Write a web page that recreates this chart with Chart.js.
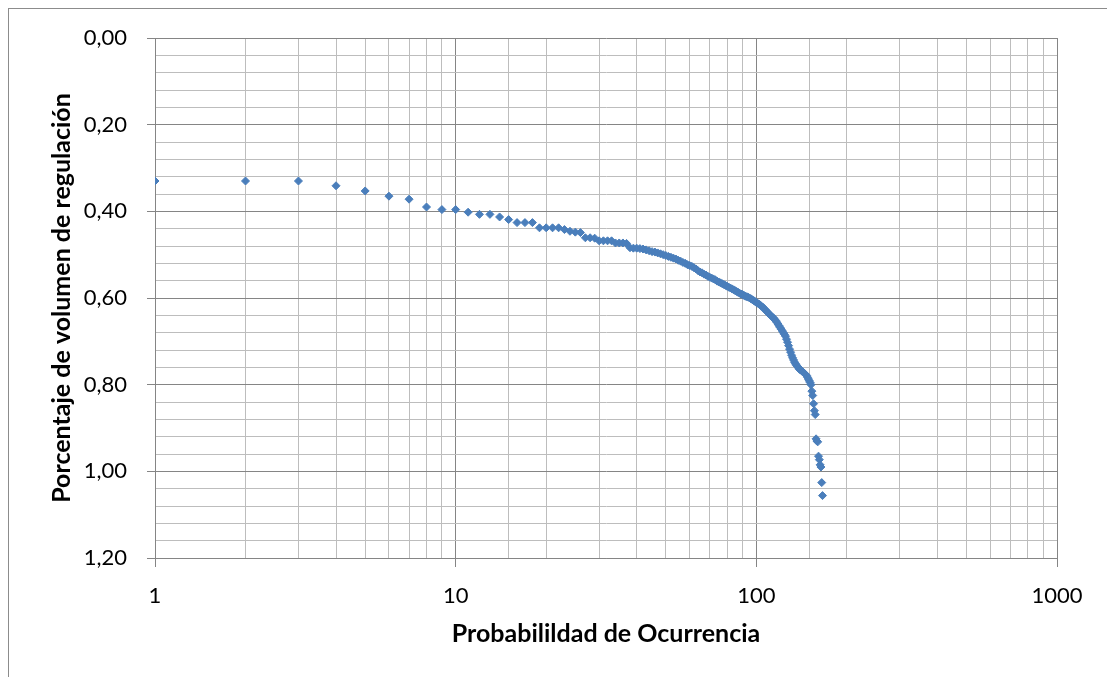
<!DOCTYPE html>
<html>
<head>
<meta charset="utf-8">
<script src="https://cdn.jsdelivr.net/npm/chart.js@4.4.1/dist/chart.umd.min.js"></script>
<style>
  html, body { margin: 0; padding: 0; background: #fff; overflow: hidden; }
  #marco { position: absolute; left: 8px; top: 8px; width: 1200px; height: 800px;
           border-left: 1px solid #8c8c8c; border-top: 1px solid #8c8c8c; }
  #grafico { position: absolute; left: 0; top: 0; }
</style>
</head>
<body>
<div id="marco"></div>
<canvas id="grafico" width="1107" height="677"></canvas>
<script>
// Rango de cada valor (probabilidad de ocurrencia)
const ocurrencia = [
  1, 2, 3, 4, 5, 6, 7, 8, 9, 10, 11, 12, 13, 14, 15, 16, 17, 18, 19, 20,
  21, 22, 23, 24, 25, 26, 27, 28, 29, 30, 31, 32, 33, 34, 35, 36, 37, 38, 39, 40,
  41, 42, 43, 44, 45, 46, 47, 48, 49, 50, 51, 52, 53, 54, 55, 56, 57, 58, 59, 60,
  61, 62, 63, 64, 65, 66, 67, 68, 69, 70, 71, 72, 73, 74, 75, 76, 77, 78, 79, 80,
  81, 82, 83, 84, 85, 86, 87, 88, 89, 90, 91, 92, 93, 94, 95, 96, 97, 98, 99, 100,
  101, 102, 103, 104, 105, 106, 107, 108, 109, 110, 111, 112, 113, 114, 115, 116, 117, 118, 119, 120,
  121, 122, 123, 124, 125, 126, 127, 128, 129, 130, 131, 132, 133, 134, 135, 136, 137, 138, 139, 140,
  141, 142, 143, 144, 145, 146, 147, 148, 149, 150, 151, 152, 153, 154, 155, 156, 157, 158, 159, 160,
  161, 162, 163, 164, 165, 166
];

// Porcentaje de volumen de regulación
const volumen = [
  0.330, 0.330, 0.330, 0.341, 0.353, 0.365, 0.372, 0.390, 0.396, 0.396, 0.402,
  0.407, 0.407, 0.413, 0.419, 0.426, 0.426, 0.426, 0.438, 0.438,
  0.438, 0.438, 0.442, 0.446, 0.448, 0.449, 0.461, 0.461, 0.462, 0.468,
  0.468, 0.468, 0.468, 0.473, 0.473, 0.473, 0.474, 0.484, 0.485, 0.485,
  0.486, 0.487, 0.489, 0.491, 0.493, 0.494, 0.496, 0.498, 0.500, 0.502,
  0.504, 0.506, 0.508, 0.510, 0.513, 0.515, 0.518, 0.520, 0.523, 0.525,
  0.527, 0.530, 0.533, 0.537, 0.540, 0.542, 0.545, 0.547, 0.550, 0.552,
  0.554, 0.556, 0.558, 0.561, 0.563, 0.565, 0.567, 0.569, 0.571, 0.573,
  0.575, 0.577, 0.579, 0.581, 0.583, 0.585, 0.587, 0.589, 0.591, 0.592,
  0.594, 0.596, 0.597, 0.598, 0.600, 0.602, 0.604, 0.606, 0.608, 0.610,
  0.612, 0.614, 0.616, 0.619, 0.621, 0.624, 0.627, 0.630, 0.633, 0.636,
  0.639, 0.641, 0.644, 0.646, 0.649, 0.652, 0.656, 0.660, 0.664, 0.668,
  0.672, 0.676, 0.680, 0.684, 0.688, 0.695, 0.702, 0.710, 0.718, 0.725,
  0.732, 0.738, 0.743, 0.748, 0.752, 0.755, 0.758, 0.761, 0.764, 0.766,
  0.767, 0.769, 0.771, 0.773, 0.775, 0.777, 0.779, 0.783, 0.787, 0.791,
  0.795, 0.800, 0.815, 0.825, 0.844, 0.860, 0.869, 0.925, 0.930, 0.932,
  0.965, 0.973, 0.985, 0.990, 1.026, 1.056
];

// Etiquetas de los ejes
const etiquetasX = [1, 10, 100, 1000];
const etiquetasY = [0, 0.2, 0.4, 0.6, 0.8, 1.0, 1.2];

const tituloX = 'Probabilildad de Ocurrencia';
const tituloY = 'Porcentaje de volumen de regulación';

const gridMayor = '#858585';
const gridMenor = '#bdbdbd';

function esEtiquetaX(v) {
  return etiquetasX.some(e => Math.abs(e - v) < 1e-9);
}
function esEtiquetaY(v) {
  return etiquetasY.some(e => Math.abs(e - v) < 1e-6);
}

const puntos = ocurrencia.map((x, i) => ({ x: x, y: volumen[i] }));

const ctx = document.getElementById('grafico');

new Chart(ctx, {
  type: 'scatter',
  data: {
    datasets: [{
      label: 'Volumen',
      data: puntos,
      pointStyle: 'rectRot',
      pointRadius: 4,
      pointBorderWidth: 1,
      backgroundColor: '#4a7ebb',
      borderColor: '#4a7ebb'
    }]
  },
  options: {
    responsive: false,
    animation: false,
    layout: { padding: { left: 0, top: 38, right: 50, bottom: 0 } },
    plugins: {
      legend: { display: false },
      tooltip: { enabled: false }
    },
    scales: {
      x: {
        type: 'logarithmic',
        min: 1,
        max: 1000,
        afterFit: scale => { scale.height = 119; },
        border: { color: gridMayor, width: 1 },
        grid: {
          color: c => esEtiquetaX(c.tick.value) ? gridMayor : gridMenor,
          tickColor: c => esEtiquetaX(c.tick.value) ? gridMayor : 'rgba(0,0,0,0)',
          tickLength: 9,
          lineWidth: 1
        },
        ticks: {
          autoSkip: false,
          maxRotation: 0,
          padding: 16,
          color: '#000',
          font: { family: 'Lato', size: 22 },
          callback: v => esEtiquetaX(v) ? String(v) : ''
        },
        title: {
          display: true,
          text: tituloX,
          color: '#000',
          font: { family: 'Lato', size: 25, weight: 'bold' },
          padding: { top: 0, bottom: 28 }
        }
      },
      y: {
        reverse: true,
        min: 0,
        max: 1.2,
        afterFit: scale => { scale.width = 155; },
        border: { color: gridMayor, width: 1 },
        grid: {
          color: c => esEtiquetaY(c.tick.value) ? gridMayor : gridMenor,
          tickColor: c => esEtiquetaY(c.tick.value) ? gridMayor : 'rgba(0,0,0,0)',
          tickLength: 8,
          lineWidth: 1
        },
        ticks: {
          stepSize: 0.04,
          maxTicksLimit: 100,
          autoSkip: false,
          padding: 20,
          color: '#000',
          font: { family: 'Lato', size: 22 },
          callback: v => esEtiquetaY(v) ? v.toFixed(2).replace('.', ',') : ''
        },
        title: {
          display: true,
          text: tituloY,
          color: '#000',
          font: { family: 'Lato', size: 25, weight: 'bold' },
          padding: { top: 47, bottom: 0 }
        }
      }
    }
  }
});
</script>
</body>
</html>
